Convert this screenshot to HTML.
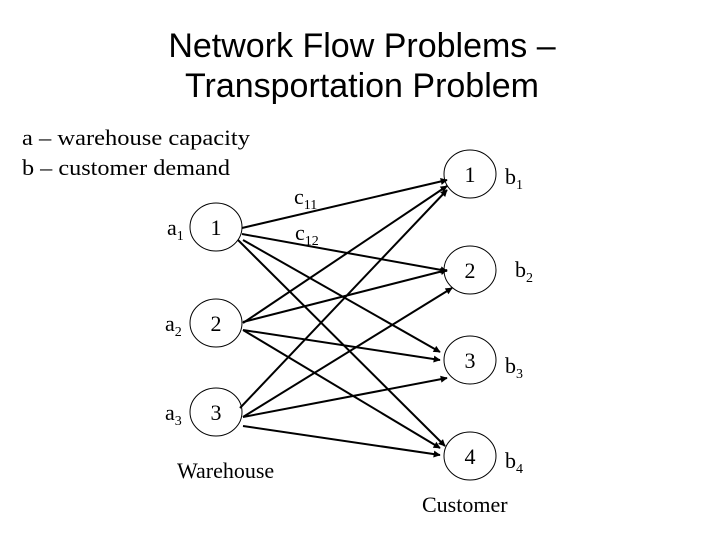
<!DOCTYPE html>
<html><head><meta charset="utf-8"><style>body{margin:0;background:#fff}svg{display:block}</style></head><body>
<svg width="720" height="540" xmlns="http://www.w3.org/2000/svg">
<defs><marker id="a" viewBox="0 0 10 10" refX="9" refY="5" markerWidth="9" markerHeight="7" markerUnits="userSpaceOnUse" orient="auto"><path d="M0,0L10,5L0,10z" fill="#000"/></marker></defs>
<g font-family="Liberation Sans, sans-serif" font-size="34" text-anchor="middle">
<text x="362" y="57">Network Flow Problems –</text>
<text x="362" y="97">Transportation Problem</text>
</g>
<g font-family="Liberation Serif, serif" font-size="22">
<text x="22" y="145" textLength="228" lengthAdjust="spacingAndGlyphs">a – warehouse capacity</text>
<text x="22" y="175" textLength="208" lengthAdjust="spacingAndGlyphs">b – customer demand</text>
</g>
<g fill="none" stroke="#000" stroke-width="1">
<ellipse cx="216" cy="227" rx="26" ry="24"/><ellipse cx="216" cy="323" rx="26" ry="24"/><ellipse cx="216" cy="412" rx="26" ry="24"/>
<ellipse cx="470" cy="174" rx="26" ry="24"/><ellipse cx="470" cy="270" rx="26" ry="24"/><ellipse cx="470" cy="360" rx="26" ry="24"/><ellipse cx="470" cy="456" rx="26" ry="24"/>
</g>
<g stroke="#000" stroke-width="2" marker-end="url(#a)">
<line x1="242" y1="228" x2="447" y2="180"/>
<line x1="242" y1="234" x2="447" y2="271"/>
<line x1="243" y1="240" x2="440" y2="352"/>
<line x1="238" y1="240" x2="445" y2="446"/>
<line x1="243" y1="323" x2="447" y2="186"/>
<line x1="243" y1="322" x2="447" y2="270"/>
<line x1="243" y1="330" x2="440" y2="360"/>
<line x1="243" y1="330" x2="440" y2="448"/>
<line x1="240" y1="408" x2="447" y2="190"/>
<line x1="243" y1="417" x2="452" y2="288"/>
<line x1="243" y1="417" x2="447" y2="378"/>
<line x1="243" y1="426" x2="440" y2="455"/>
</g>
<g font-family="Liberation Serif, serif" font-size="22">
<g text-anchor="middle">
<text x="216" y="235">1</text><text x="216" y="331">2</text><text x="216" y="420">3</text>
<text x="470" y="182">1</text><text x="470" y="278">2</text><text x="470" y="368">3</text><text x="470" y="464">4</text>
</g>
<text x="167" y="235">a<tspan font-size="14" dy="5">1</tspan></text>
<text x="165" y="331">a<tspan font-size="14" dy="5">2</tspan></text>
<text x="165" y="420">a<tspan font-size="14" dy="5">3</tspan></text>
<text x="505" y="184">b<tspan font-size="14" dy="5">1</tspan></text>
<text x="515" y="277">b<tspan font-size="14" dy="5">2</tspan></text>
<text x="505" y="373">b<tspan font-size="14" dy="5">3</tspan></text>
<text x="505" y="468">b<tspan font-size="14" dy="5">4</tspan></text>
<text x="294" y="204">c<tspan font-size="14" dy="5">11</tspan></text>
<text x="295" y="240">c<tspan font-size="14" dy="5">12</tspan></text>
<text x="177" y="478">Warehouse</text>
<text x="422" y="512">Customer</text>
</g>
</svg>
</body></html>
